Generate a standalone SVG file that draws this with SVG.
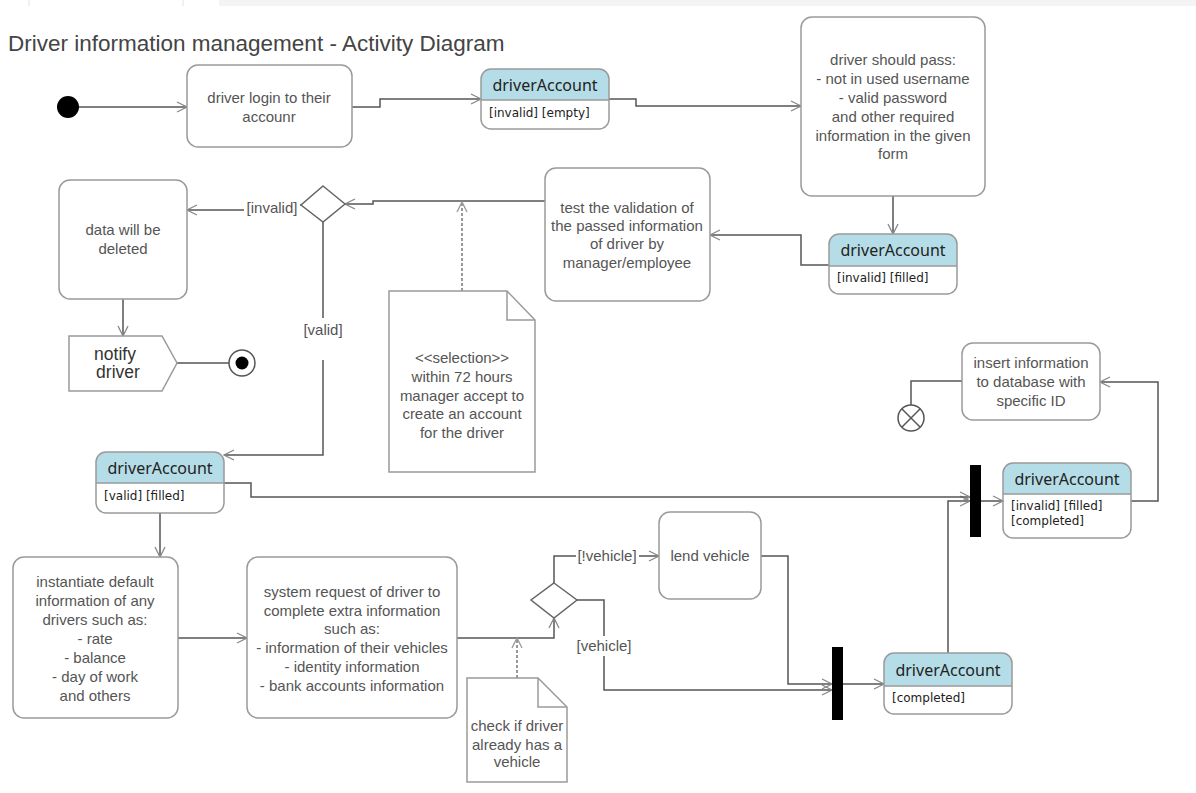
<svg xmlns="http://www.w3.org/2000/svg" width="1196" height="793" viewBox="0 0 1196 793">
<style>
.act{fill:#fff;stroke:#9a9a9a;stroke-width:1.5}
.t{font-family:"Liberation Sans",Arial,sans-serif;font-size:15px;fill:#555;text-anchor:middle}
.hd{fill:#b5dde7}
.ot{fill:none;stroke:#9a9a9a;stroke-width:1.5}
.sep{stroke:#9a9a9a;stroke-width:1.5}
.on{font-family:"Noto Sans","DejaVu Sans",sans-serif;font-size:16px;fill:#222;text-anchor:middle}
.ob{font-family:"DejaVu Sans",sans-serif;font-size:12px;fill:#222}
.c{fill:none;stroke:#555;stroke-width:1.5;marker-end:url(#arr)}
.d{fill:none;stroke:#777;stroke-width:1.5;stroke-dasharray:3,2;marker-end:url(#arr2)}
.lbl{font-family:"Liberation Sans",Arial,sans-serif;font-size:15px;fill:#555;text-anchor:middle}
.note{fill:#fff;stroke:#9a9a9a;stroke-width:1.5}
</style>
<defs>
<marker id="arr" markerUnits="userSpaceOnUse" markerWidth="14" markerHeight="14" refX="11" refY="6" orient="auto">
<path d="M1,1 L11,6 L1,11" fill="none" stroke="#888" stroke-width="1.3"/>
</marker>
<marker id="arr2" markerUnits="userSpaceOnUse" markerWidth="14" markerHeight="14" refX="11" refY="6" orient="auto">
<path d="M1,1 L11,6 L1,11" fill="none" stroke="#999" stroke-width="1.3"/>
</marker>
</defs>
<rect x="0" y="0" width="1196" height="793" fill="#fff"/>
<g id="topbar">
<rect x="219" y="0" width="977" height="6" fill="#f3f4f6"/>
<line x1="29" y1="0" x2="29" y2="6" stroke="#e3e3e3" stroke-width="1"/>
<line x1="183" y1="0" x2="183" y2="6" stroke="#e3e3e3" stroke-width="1"/>
</g>
<text x="8" y="51" font-family="Liberation Sans,Arial,sans-serif" font-size="22.5" fill="#444">Driver information management - Activity Diagram</text>

<g id="connectors">
<path class="c" d="M79,107 H187"/>
<path class="c" d="M352,107 H380 V99 H481"/>
<path class="c" d="M609,99 H636 V106 H801"/>
<path class="c" d="M893,196 V234"/>
<path class="c" d="M829,265 H801 V235 H710"/>
<path class="c" d="M545,201 H373 V204 H345"/>
<path class="c" d="M301,205 H296 V210 H187"/>
<path class="c" d="M123,299 V336"/>
<path fill="none" stroke="#555" stroke-width="1.5" d="M177,363 H229"/>
<path class="c" d="M323,222 V318 M323,360 V455 H224"/>
<path class="c" d="M160,513 V557"/>
<path class="c" d="M178,638 H247"/>
<path class="c" d="M457,638 H554 V618"/>
<path class="c" d="M554,583 V556 H659"/>
<path class="c" d="M577,600 H604 V690 H832"/>
<path class="c" d="M761,556 H788 V684 H832"/>
<path class="c" d="M843,684 H884"/>
<path class="c" d="M948,653 V501 H970"/>
<path class="c" d="M224,483 H251 V497 H970"/>
<path class="c" d="M981,501 H1003"/>
<path class="c" d="M1131,501 H1158 V382 H1100"/>
<path fill="none" stroke="#555" stroke-width="1.5" d="M962,381 H911 V405"/>
<path class="d" d="M462,291 V202"/>
<path class="d" d="M517,678 V638"/>
<rect x="244" y="199" width="56" height="19" fill="#fff"/>
<text class="lbl" x="272" y="213">[invalid]</text>
<text class="lbl" x="323" y="335">[valid]</text>
<rect x="576" y="547" width="63" height="18" fill="#fff"/>
<text class="lbl" x="607" y="561">[!vehicle]</text>
<rect x="574" y="636" width="60" height="20" fill="#fff"/>
<text class="lbl" x="604" y="651">[vehicle]</text>
</g>

<g id="start"><circle cx="68" cy="107" r="11" fill="#000"/></g>

<g id="login">
<rect class="act" x="187" y="65" width="165" height="82" rx="11"/>
<text class="t" x="269" y="103">driver login to their</text>
<text class="t" x="269" y="122">accounr</text>
</g>

<g id="da1">
<path class="hd" d="M481,100 V79 a10,10 0 0 1 10,-10 H599 a10,10 0 0 1 10,10 V100 Z"/>
<rect class="ot" x="481" y="69" width="128" height="60" rx="10"/>
<line class="sep" x1="481" y1="100" x2="609" y2="100"/>
<text class="on" x="545" y="91">driverAccount</text>
<text class="ob" x="489" y="117">[invalid] [empty]</text>
</g>

<g id="pass">
<rect class="act" x="801" y="17" width="184" height="179" rx="11"/>
<text class="t" x="893" y="65">driver should pass:</text>
<text class="t" x="893" y="84">- not in used username</text>
<text class="t" x="893" y="103">- valid password</text>
<text class="t" x="893" y="122">and other required</text>
<text class="t" x="893" y="141">information in the given</text>
<text class="t" x="893" y="159">form</text>
</g>

<g id="da2">
<path class="hd" d="M829,266 V244 a10,10 0 0 1 10,-10 H947 a10,10 0 0 1 10,10 V266 Z"/>
<rect class="ot" x="829" y="234" width="128" height="60" rx="10"/>
<line class="sep" x1="829" y1="266" x2="957" y2="266"/>
<text class="on" x="893" y="256">driverAccount</text>
<text class="ob" x="837" y="282">[invalid] [filled]</text>
</g>

<g id="test">
<rect class="act" x="545" y="168" width="165" height="133" rx="11"/>
<text class="t" x="627" y="213">test the validation of</text>
<text class="t" x="627" y="231">the passed information</text>
<text class="t" x="627" y="249">of driver by</text>
<text class="t" x="627" y="268">manager/employee</text>
</g>

<g id="decision1">
<path d="M323,186 L345,204 L323,222 L301,205 Z" fill="#fff" stroke="#666" stroke-width="1.5"/>
</g>

<g id="deleted">
<rect class="act" x="59" y="180" width="128" height="119" rx="11"/>
<text class="t" x="123" y="235">data will be</text>
<text class="t" x="123" y="254">deleted</text>
</g>

<g id="notify">
<path d="M69,336 H162 L177,363 L162,391 H69 Z" fill="#fff" stroke="#9a9a9a" stroke-width="1.5"/>
<text x="115" y="360" font-family="Liberation Sans,Arial,sans-serif" font-size="17.5" fill="#333" text-anchor="middle">notify</text>
<text x="118" y="378" font-family="Liberation Sans,Arial,sans-serif" font-size="17.5" fill="#333" text-anchor="middle">driver</text>
</g>

<g id="final">
<circle cx="242" cy="363" r="13" fill="#fff" stroke="#555" stroke-width="1.5"/>
<circle cx="242" cy="363" r="6.5" fill="#000"/>
</g>

<g id="note1">
<path class="note" d="M389,291 H507 L535,320 V472 H389 Z"/>
<path d="M507,291 V320 H535" fill="none" stroke="#9a9a9a" stroke-width="1.5"/>
<text class="t" x="462" y="363">&lt;&lt;selection&gt;&gt;</text>
<text class="t" x="462" y="382">within 72 hours</text>
<text class="t" x="462" y="401">manager accept to</text>
<text class="t" x="462" y="419">create an account</text>
<text class="t" x="462" y="438">for the driver</text>
</g>

<g id="insert">
<rect class="act" x="962" y="343" width="138" height="77" rx="11"/>
<text class="t" x="1031" y="368">insert information</text>
<text class="t" x="1031" y="387">to database with</text>
<text class="t" x="1031" y="406">specific ID</text>
</g>

<g id="flowfinal">
<circle cx="911" cy="418" r="13" fill="#fff" stroke="#555" stroke-width="1.5"/>
<path d="M902,409 L920,427 M920,409 L902,427" stroke="#555" stroke-width="1.5"/>
</g>

<g id="da3">
<path class="hd" d="M96,483 V462 a10,10 0 0 1 10,-10 H214 a10,10 0 0 1 10,10 V483 Z"/>
<rect class="ot" x="96" y="452" width="128" height="61" rx="10"/>
<line class="sep" x1="96" y1="483" x2="224" y2="483"/>
<text class="on" x="160" y="474">driverAccount</text>
<text class="ob" x="104" y="500">[valid] [filled]</text>
</g>

<g id="bar1"><rect x="970" y="465" width="11" height="72" fill="#000"/></g>

<g id="da4">
<path class="hd" d="M1003,494 V473 a10,10 0 0 1 10,-10 H1121 a10,10 0 0 1 10,10 V494 Z"/>
<rect class="ot" x="1003" y="463" width="128" height="75" rx="10"/>
<line class="sep" x1="1003" y1="494" x2="1131" y2="494"/>
<text class="on" x="1067" y="485">driverAccount</text>
<text class="ob" x="1011" y="510">[invalid] [filled]</text>
<text class="ob" x="1011" y="525">[completed]</text>
</g>

<g id="instantiate">
<rect class="act" x="13" y="557" width="165" height="161" rx="11"/>
<text class="t" x="95" y="587">instantiate default</text>
<text class="t" x="95" y="606">information of any</text>
<text class="t" x="95" y="625">drivers such as:</text>
<text class="t" x="95" y="644">- rate</text>
<text class="t" x="95" y="663">- balance</text>
<text class="t" x="95" y="682">- day of work</text>
<text class="t" x="95" y="701">and others</text>
</g>

<g id="system">
<rect class="act" x="247" y="557" width="210" height="161" rx="11"/>
<text class="t" x="352" y="597">system request of driver to</text>
<text class="t" x="352" y="616">complete extra information</text>
<text class="t" x="352" y="634">such as:</text>
<text class="t" x="352" y="653">- information of their vehicles</text>
<text class="t" x="352" y="672">- identity information</text>
<text class="t" x="352" y="691">- bank accounts information</text>
</g>

<g id="decision2">
<path d="M554,583 L577,600 L554,618 L531,600 Z" fill="#fff" stroke="#666" stroke-width="1.5"/>
</g>

<g id="note2">
<path class="note" d="M467,678 H538 L567,707 V782 H467 Z"/>
<path d="M538,678 V707 H567" fill="none" stroke="#9a9a9a" stroke-width="1.5"/>
<text class="t" x="517" y="731">check if driver</text>
<text class="t" x="517" y="750">already has a</text>
<text class="t" x="517" y="767">vehicle</text>
</g>

<g id="lend">
<rect class="act" x="659" y="512" width="102" height="87" rx="11"/>
<text class="t" x="710" y="561">lend vehicle</text>
</g>

<g id="bar2"><rect x="832" y="647" width="11" height="73" fill="#000"/></g>

<g id="da5">
<path class="hd" d="M884,686 V663 a10,10 0 0 1 10,-10 H1002 a10,10 0 0 1 10,10 V686 Z"/>
<rect class="ot" x="884" y="653" width="128" height="61" rx="10"/>
<line class="sep" x1="884" y1="686" x2="1012" y2="686"/>
<text class="on" x="948" y="676">driverAccount</text>
<text class="ob" x="892" y="702">[completed]</text>
</g>
</svg>
